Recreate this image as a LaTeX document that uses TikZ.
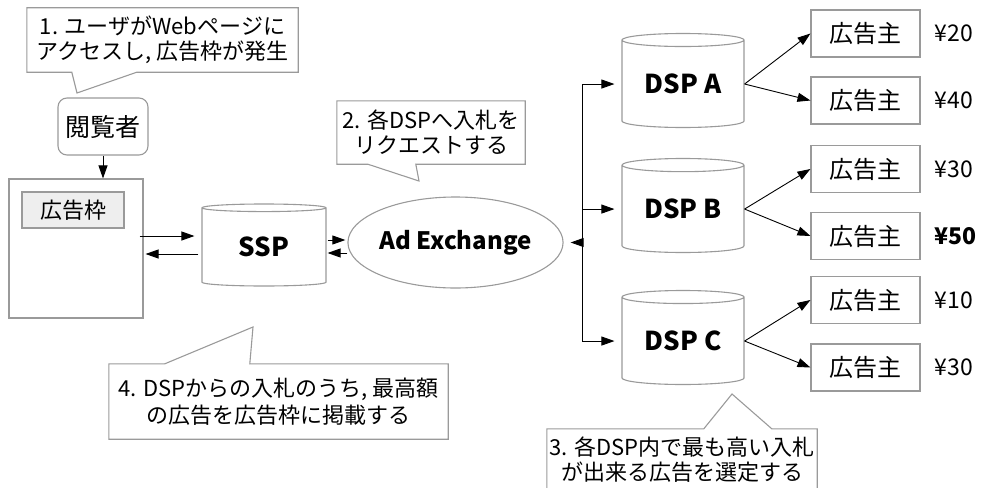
\documentclass[tikz,border=0pt]{standalone}
\usepackage{fontspec}
\setmainfont{Noto Sans CJK JP}
\usepackage{xcolor}
\usepackage{tikz}
\usetikzlibrary{arrows.meta,shapes.geometric}

\definecolor{linegray}{HTML}{9A9A9A}
\definecolor{slotgray}{HTML}{EEEEEE}

\begin{document}
\begin{tikzpicture}[x=1pt, y=-1pt,
  arr/.style={-{Triangle[length=13pt,width=9pt]}, line width=0.9pt},
  frame/.style={draw=linegray, line width=1.1pt, inner sep=0pt},
  box/.style={frame, minimum width=109pt, minimum height=47pt, font=\fontsize{24}{28}\selectfont},
  db/.style={frame, cylinder, shape border rotate=90, aspect=0.17, anchor=shape center,
    minimum width=122pt, minimum height=94pt, font=\bfseries\fontsize{26}{30}\selectfont},
  note/.style={inner sep=0pt, align=center, font=\fontsize{22}{25}\selectfont},
  outline/.style={draw=linegray, line width=1.1pt},
  price/.style={anchor=west, font=\fontsize{23}{27}\selectfont}
]
\useasboundingbox (0,0) rectangle (984,487);
\clip (0,0) rectangle (984,487);

% viewer and the web page with its ad slot
\node[frame, rounded corners=9pt, minimum width=90pt, minimum height=57pt,
  font=\fontsize{25}{30}\selectfont] (viewer) at (103,126.5) {閲覧者};
\node[frame, minimum width=134pt, minimum height=139pt] (page) at (76,248.5) {};
\node[frame, fill=slotgray, minimum width=102pt, minimum height=36pt,
  font=\fontsize{22}{26}\selectfont] (slot) at (73,210) {広告枠};

% exchange side
\node[db, minimum width=124pt, minimum height=82pt, aspect=0.15] (ssp) at (264,245) {SSP};
\node[frame, ellipse, minimum width=171pt, minimum height=91pt,
  font=\bfseries\fontsize{24}{28}\selectfont] (adx) at (455.5,242.5) {Ad Exchange};

\node[db] (dspa) at (683,80.5) {DSP A};
\node[db] (dspb) at (683,205.5) {DSP B};
\node[db] (dspc) at (683,337.5) {DSP C};

% advertisers and their bids
\node[box] (ad1) at (865.5,33.5) {広告主};
\node[box] (ad2) at (865.5,100.5) {広告主};
\node[box] (ad3) at (865.5,169) {広告主};
\node[box] (ad4) at (865.5,236) {広告主};
\node[box] (ad5) at (865.5,300) {広告主};
\node[box] (ad6) at (865.5,367.5) {広告主};

\node[price] (p1) at (931,33.5) {¥20};
\node[price] (p2) at (931,100.5) {¥40};
\node[price] (p3) at (931,169) {¥30};
\node[price, font=\bfseries\fontsize{23}{27}\selectfont] (p4) at (931,236) {¥50};
\node[price] (p5) at (931,300) {¥10};
\node[price] (p6) at (931,367.5) {¥30};

% connectors
\draw[arr] (viewer.south) -- (viewer.south |- page.north);
\draw[arr, shorten <=-4pt, shorten >=7pt] ([yshift=12.5pt]page.east) -- ([yshift=12.5pt]page.east -| ssp.west);
\draw[arr, shorten <=3pt, shorten >=2pt] ([yshift=-5.5pt]page.east -| ssp.west) -- ([yshift=-5.5pt]page.east);
\draw[arr, shorten <=1pt, shorten >=2pt] ([yshift=2.5pt]adx.west -| ssp.east) -- ([yshift=2.5pt]adx.west);
\draw[arr, shorten >=1pt] ([yshift=-10.5pt]adx.west) -- ([yshift=-10.5pt]adx.west -| ssp.east);

\coordinate (hub) at (582,242.5);
\draw[arr, shorten >=7pt] (hub) -- (adx.east);
\draw[arr, shorten >=7pt] (hub) |- (dspa.west);
\draw[arr, shorten >=7pt] (hub) |- (dspb.west);
\draw[arr, shorten >=7pt] (hub) |- (dspc.west);

\draw[arr] (dspa.east) -- (ad1.west);
\draw[arr] (dspa.east) -- (ad2.west);
\draw[arr] (dspb.east) -- (ad3.west);
\draw[arr] (dspb.east) -- (ad4.west);
\draw[arr] (dspc.east) -- (ad5.west);
\draw[arr] (dspc.east) -- (ad6.west);

% speech bubbles
\node[note, minimum width=271pt, minimum height=64pt] (note1) at (162.5,40)
  {1. ユーザがWebページに\\アクセスし, 広告枠が発生};
\coordinate (tip1) at (77,93);
\draw[outline] (note1.south west) -- (note1.north west) -- (note1.north east) -- (note1.south east)
  -- ([xshift=110pt]note1.south west) -- (tip1) -- ([xshift=45pt]note1.south west) -- cycle;

\node[note, minimum width=188pt, minimum height=63pt] (note2) at (431,132.5)
  {2. 各DSPへ入札を\\リクエストする};
\coordinate (tip2) at (419,181);
\draw[outline] (note2.south west) -- (note2.north west) -- (note2.north east) -- (note2.south east)
  -- ([xshift=79pt]note2.south west) -- (tip2) -- ([xshift=31pt]note2.south west) -- cycle;

\node[note, minimum width=270pt, minimum height=61pt] (note3) at (682,459.5)
  {3. 各DSP内で最も高い入札\\が出来る広告を選定する};
\coordinate (tip3) at (732,394);
\draw[outline] (note3.north west) -- ([xshift=157pt]note3.north west) -- (tip3)
  -- ([xshift=225pt]note3.north west) -- (note3.north east) -- (note3.south east)
  -- (note3.south west) -- cycle;

\node[note, minimum width=339pt, minimum height=75pt, font=\fontsize{22}{27}\selectfont] (note4) at (278.5,401.5)
  {4. DSPからの入札のうち, 最高額\\の広告を広告枠に掲載する};
\coordinate (tip4) at (253,327);
\draw[outline] (note4.north west) -- ([xshift=56pt]note4.north west) -- (tip4)
  -- ([xshift=141pt]note4.north west) -- (note4.north east) -- (note4.south east)
  -- (note4.south west) -- cycle;
\end{tikzpicture}
\end{document}
